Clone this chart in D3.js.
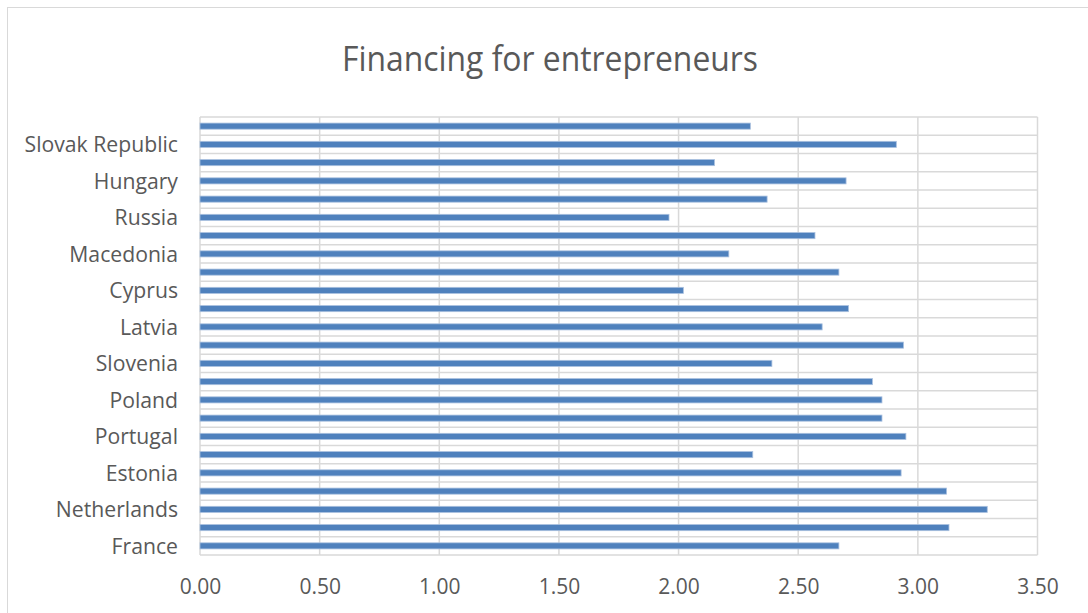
<!DOCTYPE html>
<html>
<head>
<meta charset="utf-8">
<script src="https://cdn.jsdelivr.net/npm/d3@7"></script>
<style>
  html, body { margin: 0; padding: 0; background: #fff; }
  svg { display: block; }
</style>
</head>
<body>
<svg id="chart" width="1088" height="613"></svg>
<script>
// Categories listed bottom-to-top (Excel order). Only every other label is shown in the reference.
const categories = [
  "France", "Luxembourg", "Netherlands", "Switzerland", "Estonia", "Greece",
  "Portugal", "Ireland", "Poland", "Sweden", "Slovenia", "Spain",
  "Latvia", "Germany", "Cyprus", "Italy", "Macedonia", "Croatia",
  "Russia", "Bulgaria", "Hungary", "Bosnia and Herzegovina", "Slovak Republic", "Belgium"
];
const values = [
  2.67, 3.13, 3.29, 3.12, 2.93, 2.31,
  2.95, 2.85, 2.85, 2.81, 2.39, 2.94,
  2.60, 2.71, 2.02, 2.67, 2.21, 2.57,
  1.96, 2.37, 2.70, 2.15, 2.91, 2.30
];
const xTicks = [0, 0.5, 1.0, 1.5, 2.0, 2.5, 3.0, 3.5];
const title = "Financing for entrepreneurs";

const svg = d3.select("#chart");
const W = 1088, H = 613;
const plot = { left: 200, right: 1037.5, top: 117, bottom: 555 };
const grid = "#d9d9d9";
const textCol = "#595959";

// chart area border
svg.append("rect")
  .attr("x", 7.5).attr("y", 7.5)
  .attr("width", W + 20).attr("height", H + 20)
  .attr("fill", "#fff").attr("stroke", grid).attr("stroke-width", 1);

const x = d3.scaleLinear().domain([0, 3.5]).range([plot.left, plot.right]);
const y = d3.scaleBand().domain(categories).range([plot.bottom, plot.top]);

// vertical gridlines
svg.append("g").selectAll("line").data(xTicks).join("line")
  .attr("x1", d => x(d)).attr("x2", d => x(d))
  .attr("y1", plot.top).attr("y2", plot.bottom)
  .attr("stroke", grid).attr("stroke-width", 1.5);

// horizontal gridlines at category boundaries
const bounds = categories.map(c => y(c)).concat([plot.bottom]);
svg.append("g").selectAll("line").data(bounds).join("line")
  .attr("x1", plot.left).attr("x2", plot.right)
  .attr("y1", d => d).attr("y2", d => d)
  .attr("stroke", grid).attr("stroke-width", 1.5);

// bars
const bh = y.bandwidth() / 3;
svg.append("g").selectAll("rect").data(values).join("rect")
  .attr("x", x(0))
  .attr("y", (d, i) => y(categories[i]) + y.bandwidth() / 2 - bh / 2)
  .attr("width", d => x(d) - x(0))
  .attr("height", bh)
  .attr("fill", "#4f81bd")
  .attr("stroke", "#a9c0df").attr("stroke-width", 0.8);

// y axis (category labels, every other one)
const yAxis = d3.axisLeft(y)
  .tickValues(categories.filter((c, i) => i % 2 === 0))
  .tickSize(0).tickPadding(0);
const gy = svg.append("g").attr("transform", `translate(${plot.left - 22},0)`).call(yAxis);
gy.select(".domain").remove();
gy.selectAll("text")
  .attr("fill", textCol)
  .attr("font-family", "'Open Sans', sans-serif")
  .attr("font-size", "21.2px")
  .attr("dy", "0.38em");

// x axis labels
const xAxis = d3.axisBottom(x).tickValues(xTicks).tickFormat(d3.format(".2f")).tickSize(0).tickPadding(0);
const gx = svg.append("g").attr("transform", `translate(0,${plot.bottom + 39})`).call(xAxis);
gx.select(".domain").remove();
gx.selectAll("text")
  .attr("fill", textCol)
  .attr("font-family", "'Open Sans', sans-serif")
  .attr("font-size", "21px")
  .attr("dy", "0");

// title
svg.append("text")
  .attr("x", 550).attr("y", 71)
  .attr("text-anchor", "middle")
  .attr("fill", textCol)
  .attr("font-family", "'Open Sans', sans-serif")
  .attr("font-weight", 400)
  .attr("font-size", "35px")
  .attr("textLength", 416)
  .attr("lengthAdjust", "spacingAndGlyphs")
  .text(title);
</script>
</body>
</html>
